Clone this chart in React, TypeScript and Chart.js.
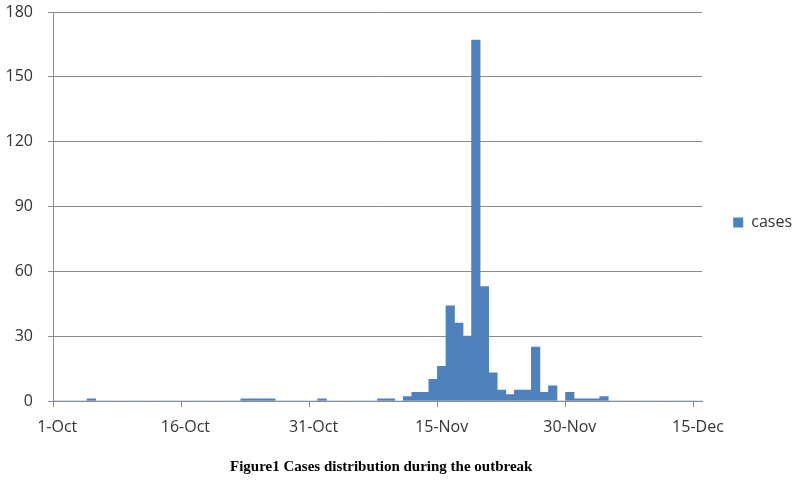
import React, { useEffect, useRef } from "react";
import { Chart, registerables } from "chart.js";

Chart.register(...registerables);

// Categories: one per day, 1-Oct .. 15-Dec
const months: [string, number][] = [
  ["Oct", 31],
  ["Nov", 30],
  ["Dec", 15],
];
const dayLabels: string[] = [];
for (const [m, n] of months) for (let i = 1; i <= n; i++) dayLabels.push(`${i}-${m}`);

// Daily cases
const cases: number[] = [
  0, 0, 0, 0, 1, 0, 0, 0, 0, 0,
  0, 0, 0, 0, 0, 0, 0, 0, 0, 0,
  0, 0, 1, 1, 1, 1, 0, 0, 0, 0,
  0, 1, 0, 0, 0, 0, 0, 0, 1, 1,
  0, 2, 4, 4, 10, 16, 44, 36, 30, 167,
  53, 13, 5, 3, 5, 5, 25, 4, 7, 0,
  4, 1, 1, 1, 2, 0, 0, 0, 0, 0,
  0, 0, 0, 0, 0, 0,
];

const tickLabels: string[] = ["1-Oct", "16-Oct", "31-Oct", "15-Nov", "30-Nov", "15-Dec"];
const yMin = 0;
const yMax = 180;
const yStep = 30;

const seriesName = "cases";
const caption = "Figure1 Cases distribution during the outbreak";

const GRID = "#8a8a8a";
const TEXT = "#333333";
const FONT = { family: "'Open Sans', sans-serif", size: 16 };

export default function App() {
  const ref = useRef<HTMLCanvasElement>(null);

  useEffect(() => {
    if (!ref.current) return;
    const chart = new Chart(ref.current, {
      type: "bar",
      data: {
        labels: dayLabels,
        datasets: [
          {
            label: seriesName,
            data: cases,
            backgroundColor: "#4F81BD",
            borderWidth: 0,
            barPercentage: 1,
            categoryPercentage: 1,
          },
        ],
      },
      options: {
        responsive: false,
        animation: false,
        layout: { padding: { top: 0, right: -5, bottom: 44, left: 0 } },
        plugins: {
          legend: {
            position: "right",
            title: {
              display: true,
              text: "",
              padding: 0,
              font: { size: 8, lineHeight: 1 },
            },
            labels: {
              boxWidth: 10,
              boxHeight: 10,
              padding: 31,
              color: TEXT,
              font: FONT,
            },
          },
          tooltip: { enabled: false },
        },
        scales: {
          x: {
            grid: {
              offset: true,
              drawOnChartArea: false,
              tickLength: 6,
              tickColor: (c: any) =>
                c.index !== undefined && tickLabels.includes(dayLabels[c.index])
                  ? GRID
                  : "rgba(0,0,0,0)",
            },
            border: { color: GRID },
            ticks: {
              autoSkip: false,
              maxRotation: 0,
              minRotation: 0,
              padding: 11,
              color: TEXT,
              font: FONT,
              callback: (_v: any, i: number) =>
                tickLabels.includes(dayLabels[i]) ? dayLabels[i] : "",
            },
            afterFit: (s: any) => {
              s.height = 36;
            },
          },
          y: {
            min: yMin,
            max: yMax,
            ticks: { stepSize: yStep, padding: 15, color: TEXT, font: FONT },
            grid: { color: GRID, tickLength: 5, tickColor: GRID },
            border: { color: GRID },
            afterFit: (s: any) => {
              s.width = 53;
              s.paddingTop = 12;
            },
          },
        },
      },
    });
    return () => chart.destroy();
  }, []);

  return (
    <div style={{ position: "fixed", left: 0, top: 0, width: 797, height: 481, background: "#fff" }}>
      <canvas ref={ref} width={797} height={481} style={{ display: "block", width: 797, height: 481 }} />
      <div
        style={{
          position: "absolute",
          left: 230,
          top: 458,
          font: "bold 15px 'Liberation Serif', serif",
          color: "#000",
          whiteSpace: "nowrap",
        }}
      >
        {caption}
      </div>
    </div>
  );
}
